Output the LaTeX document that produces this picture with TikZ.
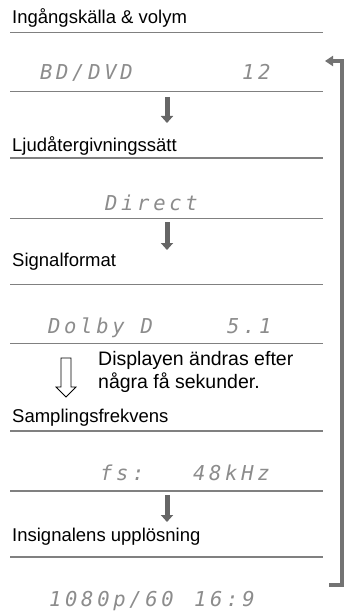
\documentclass[tikz,border=0pt]{standalone}
\usepackage{fontspec}
\setmainfont{Liberation Sans}
\newfontfamily\lcdfont{DejaVu Sans Mono}[LetterSpace=18]
\usetikzlibrary{arrows.meta}

\begin{document}
\begin{tikzpicture}[x=1pt, y=-1pt,
  head/.style={anchor=base west, inner sep=0pt, font=\fontsize{18.5}{22}\selectfont},
  lcd/.style={anchor=base west, inner sep=0pt, text=black!45,
              font=\fontsize{20.5}{24}\selectfont\lcdfont\itshape},
  rule/.style={draw=black!50, line width=1.6pt},
  arr/.style={-{Triangle[length=7pt, width=12pt]}, draw=black!60, line width=5pt},
  back/.style={-{Triangle[length=8pt, width=10pt]}, draw=black!55,
               line width=3.5pt, line join=miter}
]
\useasboundingbox (0,0) rectangle (345,615);

% headings
\node[head] (hsrc) at (12,24) {Ingångskälla \& volym};
\node[head] (hmode) at (12,151) {Ljudåtergivningssätt};
\node[head] (hfmt) at (12,266) {Signalformat};
\node[head] (hfs) at (12,422) {Samplingsfrekvens};
\node[head] (hres) at (12,541) {Insignalens upplösning};

% display readouts
\node[lcd] (dsrc) at (40,80) {BD/DVD};
\node[lcd] (dvol) at (242,80) {12};
\node[lcd] (dmode) at (105,210) {Direct};
\node[lcd] (dfmt) at (48,333) {Dolby D};
\node[lcd] (dch) at (227,333) {5.1};
\node[lcd] (dfs) at (100,480) {fs:};
\node[lcd] (dkhz) at (193,480) {48kHz};
\node[lcd] (dres) at (49,606) {1080p/60};
\node[lcd] (dasp) at (194,606) {16:9};

% rules
\foreach \y in {32.5,91.7,158,218.3,284.3,343.3,431,491,556.7}
  \draw[rule] (10,\y) -- (323,\y);

% steps
\coordinate (s1) at (167,97);  \coordinate (e1) at (167,123);
\coordinate (s2) at (167,222); \coordinate (e2) at (167,250);
\coordinate (s4) at (167,495); \coordinate (e4) at (167,522);
\draw[arr] (s1) -- (e1);
\draw[arr] (s2) -- (e2);
\draw[arr] (s4) -- (e4);

% automatic step
\draw[black, line width=0.8pt, fill=white]
  (61,358) -- (61,387) -- (56,387) -- (66,397) -- (76,387) -- (71,387) -- (71,358) -- cycle;
\node[anchor=north west, inner sep=0pt, font=\fontsize{19.5}{23}\selectfont, align=left] (note) at (98,351)
  {Displayen ändras efter\\några få sekunder.};

% back to start
\coordinate (rb) at (329,585);
\coordinate (rc1) at (342,585);
\coordinate (rc2) at (342,61);
\coordinate (rt) at (325,61);
\draw[back] (rb) -- (rc1) -- (rc2) -- (rt);
\end{tikzpicture}
\end{document}
